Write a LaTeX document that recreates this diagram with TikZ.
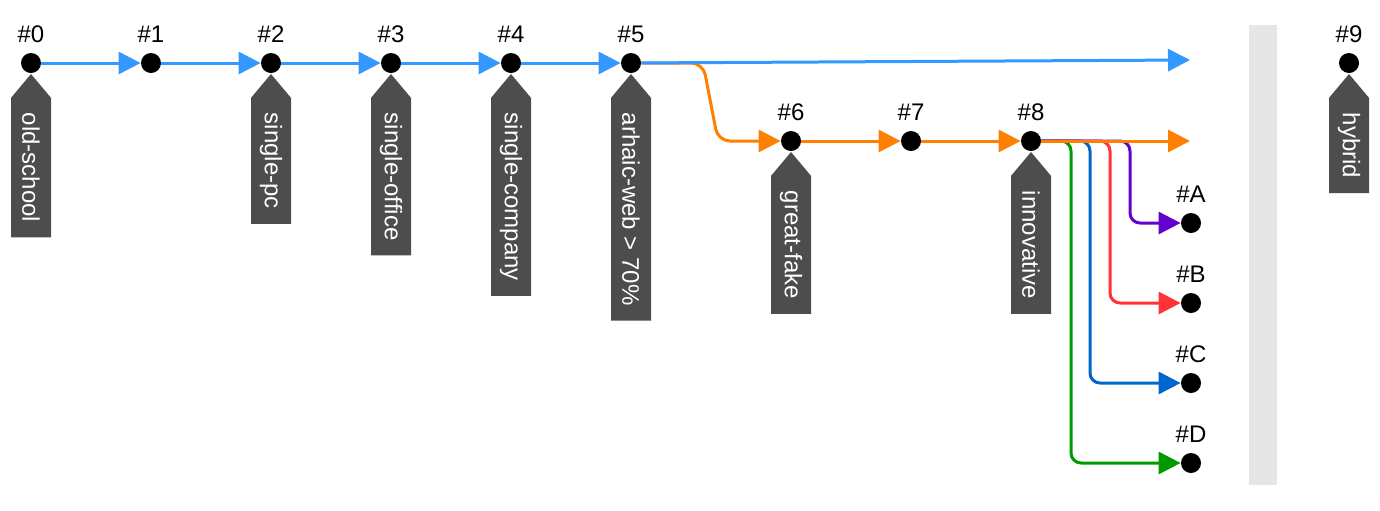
\documentclass[tikz,border=0pt]{standalone}
\usepackage{fontspec}
\setmainfont{Liberation Sans}
\usetikzlibrary{arrows.meta, shapes.symbols}

\definecolor{mainblue}{RGB}{51,153,255}
\definecolor{devorange}{RGB}{255,128,0}
\definecolor{brpurple}{RGB}{102,0,204}
\definecolor{brred}{RGB}{255,51,51}
\definecolor{brblue}{RGB}{0,102,204}
\definecolor{brgreen}{RGB}{0,153,0}
\definecolor{tagfill}{RGB}{77,77,77}
\definecolor{barfill}{RGB}{230,230,230}

\begin{document}
\begin{tikzpicture}[x=0.5pt,y=-0.5pt,
  commit/.style={circle,fill=black,minimum size=10pt,inner sep=0pt},
  tag/.style={signal,signal to=west,signal pointer angle=80,fill=tagfill,
    text=white,rotate=-90,anchor=west,minimum height=20pt,inner xsep=7.5pt,
    inner ysep=0pt,font=\fontsize{12}{14}\selectfont},
  flow/.style={line width=1.5pt,-{Triangle[length=11pt,width=11pt]}},
  every label/.style={font=\fontsize{12}{14}\selectfont},
  label distance=1.5pt]
\useasboundingbox (0,0) rectangle (1380,510);
\fill[barfill] (1249,25) rectangle (1277,485);
% commits
\node[commit,label=above:\#0] (c0) at (31,63) {};
\node[commit,label=above:\#1] (c1) at (151,63) {};
\node[commit,label=above:\#2] (c2) at (271,63) {};
\node[commit,label=above:\#3] (c3) at (391,63) {};
\node[commit,label=above:\#4] (c4) at (511,63) {};
\node[commit,label=above:\#5] (c5) at (631,63) {};
\node[commit,label=above:\#6] (c6) at (791,141) {};
\node[commit,label=above:\#7] (c7) at (911,141) {};
\node[commit,label=above:\#8] (c8) at (1031,141) {};
\node[commit,label=above:\#A] (cA) at (1191,223) {};
\node[commit,label=above:\#B] (cB) at (1191,303) {};
\node[commit,label=above:\#C] (cC) at (1191,383) {};
\node[commit,label=above:\#D] (cD) at (1191,463) {};
\node[commit,label=above:\#9] (c9) at (1349,63) {};
\coordinate (mainend) at (1190,60);
\coordinate (devend) at (1190,141);
% tags
\node[tag] (t0) at (c0.south) {old-school};
\node[tag] (t2) at (c2.south) {single-pc};
\node[tag] (t3) at (c3.south) {single-office};
\node[tag] (t4) at (c4.south) {single-company};
\node[tag] (t5) at (c5.south) {arhaic-web > 70\%};
\node[tag] (t6) at (c6.south) {great-fake};
\node[tag] (t8) at (c8.south) {innovative};
\node[tag] (t9) at (c9.south) {hybrid};
% branches off #8
\draw[flow,brgreen,rounded corners=5pt] (c8.east) -- (1071,141) -- (1071,463) -- (cD);
\draw[flow,brblue,rounded corners=5pt] (c8.east) -- (1090,141) -- (1090,383) -- (cC);
\draw[flow,brred,rounded corners=5pt] (c8.east) -- (1110,141) -- (1110,303) -- (cB);
\draw[flow,brpurple,rounded corners=5pt] (c8.east) -- (1130,141) -- (1130,223) -- (cA);
% development line
\draw[flow,devorange,rounded corners=6pt] (c5.east) -- (703,63) -- (718,141) -- (c6);
\draw[flow,devorange] (c6) -- (c7);
\draw[flow,devorange] (c7) -- (c8);
\draw[flow,devorange] (c8) -- (devend);
% main line
\draw[flow,mainblue] (c0) -- (c1);
\draw[flow,mainblue] (c1) -- (c2);
\draw[flow,mainblue] (c2) -- (c3);
\draw[flow,mainblue] (c3) -- (c4);
\draw[flow,mainblue] (c4) -- (c5);
\draw[flow,mainblue] (c5) -- (mainend);
\end{tikzpicture}
\end{document}
